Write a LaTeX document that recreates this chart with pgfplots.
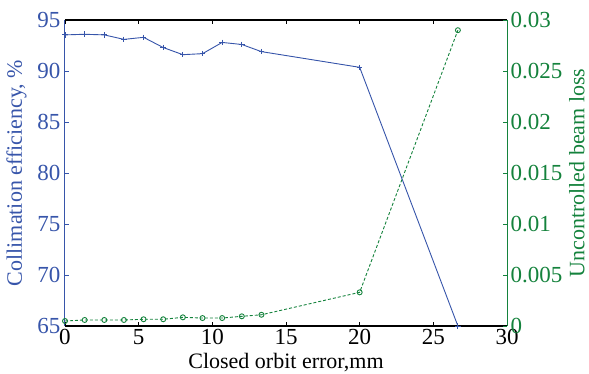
\documentclass[border=0pt]{standalone}
\usepackage{pgfplots}
\pgfplotsset{compat=1.18}
\usepackage{fontspec}
\setmainfont{Liberation Serif}
\definecolor{cblue}{RGB}{55,85,170}
\definecolor{cgreen}{RGB}{20,130,60}
\begin{document}
\fontsize{19}{22}\selectfont
\begin{tikzpicture}
\begin{axis}[
  scale only axis, width=442pt, height=306pt,
  xmin=0, xmax=30, ymin=65, ymax=95,
  xtick={0,5,...,30}, ytick={65,70,...,95},
  axis y line*=left,
  tick align=inside, major tick length=4pt,
  y axis line style={cblue, line width=1pt},
  x axis line style={black, line width=1.2pt},
  every outer x axis line/.style={black, line width=1.2pt},
  x tick style={black, line width=0.8pt},
  y tick style={cblue, line width=0.8pt},
  y tick label style={cblue, xshift=2pt},
  x tick label style={yshift=3pt},
  xlabel={Closed orbit error,mm},
  ylabel={\color{cblue}Collimation efficiency, \%},
  /pgf/number format/assume math mode=true,
  ticklabel style={font=\rmfamily\fontsize{23}{26}\selectfont},
  label style={font=\rmfamily\fontsize{22}{26}\selectfont},
  xlabel style={yshift=5pt},
  ylabel style={yshift=-2pt},
  clip=false,
]
\addplot[cblue, line width=0.9pt, mark=+, mark size=2.8pt] coordinates {
(0,93.54) (1.333,93.6) (2.667,93.54) (4,93.1) (5.333,93.3) (6.667,92.3) (8,91.6) (9.333,91.7) (10.667,92.8) (12,92.6) (13.333,91.9) (20,90.36) (26.667,65)
};
\end{axis}
\begin{axis}[
  scale only axis, width=442pt, height=306pt,
  xmin=0, xmax=30, ymin=0, ymax=0.03,
  axis x line=none, axis y line*=right,
  scaled y ticks=false,
  ytick={0,0.005,0.01,0.015,0.02,0.025,0.03},
  yticklabels={0,0.005,0.01,0.015,0.02,0.025,0.03},
  tick align=inside, major tick length=4pt,
  y axis line style={cgreen, line width=1pt},
  y tick style={cgreen, line width=0.8pt},
  y tick label style={cgreen, xshift=-3pt},
  ylabel={\color{cgreen}Uncontrolled beam loss},
  /pgf/number format/assume math mode=true,
  ticklabel style={font=\rmfamily\fontsize{23}{26}\selectfont},
  label style={font=\rmfamily\fontsize{22}{26}\selectfont},
  ylabel style={yshift=6pt},
  clip=false,
]
\addplot[cgreen, line width=0.9pt, dashed, dash pattern=on 3pt off 2pt, mark=o, mark size=2.5pt, mark options={solid}] coordinates {
(0,0.00049) (1.333,0.00059) (2.667,0.00059) (4,0.00059) (5.333,0.00066) (6.667,0.00066) (8,0.00085) (9.333,0.00078) (10.667,0.00078) (12,0.00095) (13.333,0.0011) (20,0.0033) (26.667,0.029)
};
\end{axis}
\pgfresetboundingbox
\path[use as bounding box] ([xshift=-65pt,yshift=-48pt]current axis.south west) rectangle ([xshift=82pt,yshift=20pt]current axis.north east);
\end{tikzpicture}
\end{document}
